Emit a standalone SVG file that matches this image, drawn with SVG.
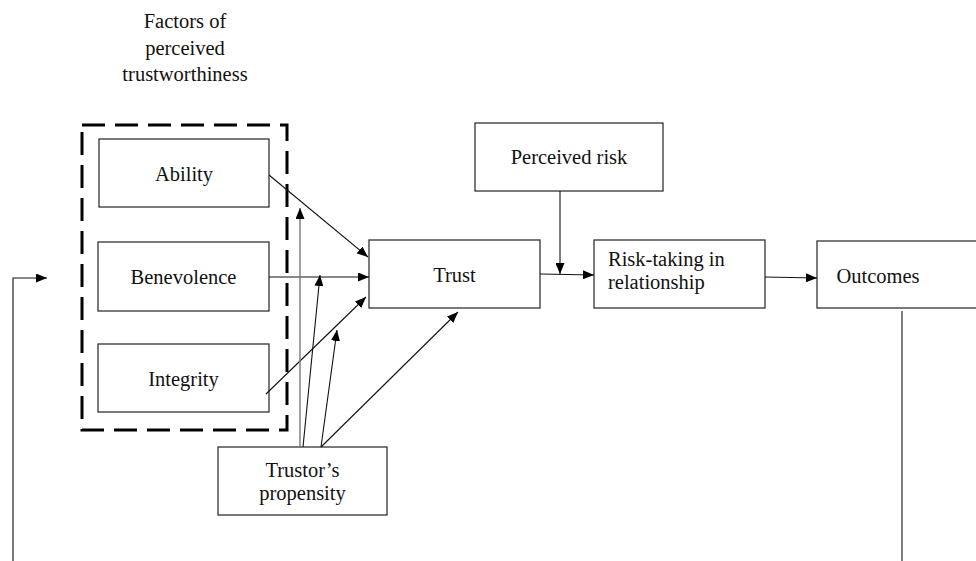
<svg xmlns="http://www.w3.org/2000/svg" width="976" height="561" viewBox="0 0 976 561">
<style>
.box{fill:#fff;stroke:#333;stroke-width:1.3}
.t{font-family:"Liberation Serif","Times New Roman",serif;font-size:20.5px;fill:#111;text-anchor:middle}
.tl{font-family:"Liberation Serif","Times New Roman",serif;font-size:20.5px;fill:#111}
.c{fill:none;stroke:#111;stroke-width:1.1}
.g{fill:none;stroke:#777;stroke-width:1.4}
</style>
<defs>
<marker id="ah" markerUnits="userSpaceOnUse" markerWidth="11" markerHeight="9" refX="11" refY="4.5" orient="auto">
<path d="M0,0 L11,4.5 L0,9 z" fill="#000"/>
</marker>
</defs>
<rect width="976" height="561" fill="#fff"/>
<g id="title">
<text class="t" x="185" y="28">Factors of</text>
<text class="t" x="185" y="55">perceived</text>
<text class="t" x="185" y="81">trustworthiness</text>
</g>
<g id="factors-group">
<rect x="82" y="125" width="205" height="305" fill="none" stroke="#000" stroke-width="3" stroke-dasharray="23 10"/>
</g>
<g id="ability"><rect class="box" x="99" y="139" width="170" height="68"/><text class="t" x="184" y="181">Ability</text></g>
<g id="benevolence"><rect class="box" x="98" y="242" width="171" height="69"/><text class="t" x="183.5" y="284">Benevolence</text></g>
<g id="integrity"><rect class="box" x="98" y="344" width="171" height="68"/><text class="t" x="183.5" y="386">Integrity</text></g>
<g id="trust"><rect class="box" x="369" y="240" width="171" height="68"/><text class="t" x="454.5" y="282">Trust</text></g>
<g id="perceived-risk"><rect class="box" x="475" y="123" width="188" height="68"/><text class="t" x="569" y="164">Perceived risk</text></g>
<g id="risk-taking"><rect class="box" x="594" y="240" width="171" height="68"/><text class="tl" x="608" y="266">Risk-taking in</text><text class="tl" x="608" y="289">relationship</text></g>
<g id="outcomes"><rect class="box" x="817" y="241" width="162" height="67"/><text class="t" x="878" y="283">Outcomes</text></g>
<g id="propensity"><rect class="box" x="218" y="447" width="169" height="68"/><text class="t" x="302.5" y="477">Trustor’s</text><text class="t" x="302.5" y="500">propensity</text></g>
<g id="connectors">
<line class="c" x1="269" y1="175" x2="368" y2="257" marker-end="url(#ah)"/>
<line class="c" x1="269" y1="277" x2="369" y2="277" marker-end="url(#ah)"/>
<line class="c" x1="266" y1="394" x2="366" y2="297" marker-end="url(#ah)"/>
<line class="g" x1="300" y1="447" x2="300" y2="208" marker-end="url(#ah)"/>
<line class="c" x1="303" y1="447" x2="320" y2="275" marker-end="url(#ah)"/>
<line class="c" x1="321" y1="447" x2="337" y2="330" marker-end="url(#ah)"/>
<line class="c" x1="321" y1="447" x2="458" y2="312" marker-end="url(#ah)"/>
<line class="c" x1="560" y1="191" x2="560" y2="274" marker-end="url(#ah)"/>
<line class="c" x1="540" y1="274" x2="594" y2="275" marker-end="url(#ah)"/>
<line class="c" x1="765" y1="277" x2="817" y2="278" marker-end="url(#ah)"/>
<line class="c" x1="902" y1="311" x2="902" y2="561"/>
<polyline class="c" points="13,561 13,278 47,278" marker-end="url(#ah)"/>
</g>
</svg>
